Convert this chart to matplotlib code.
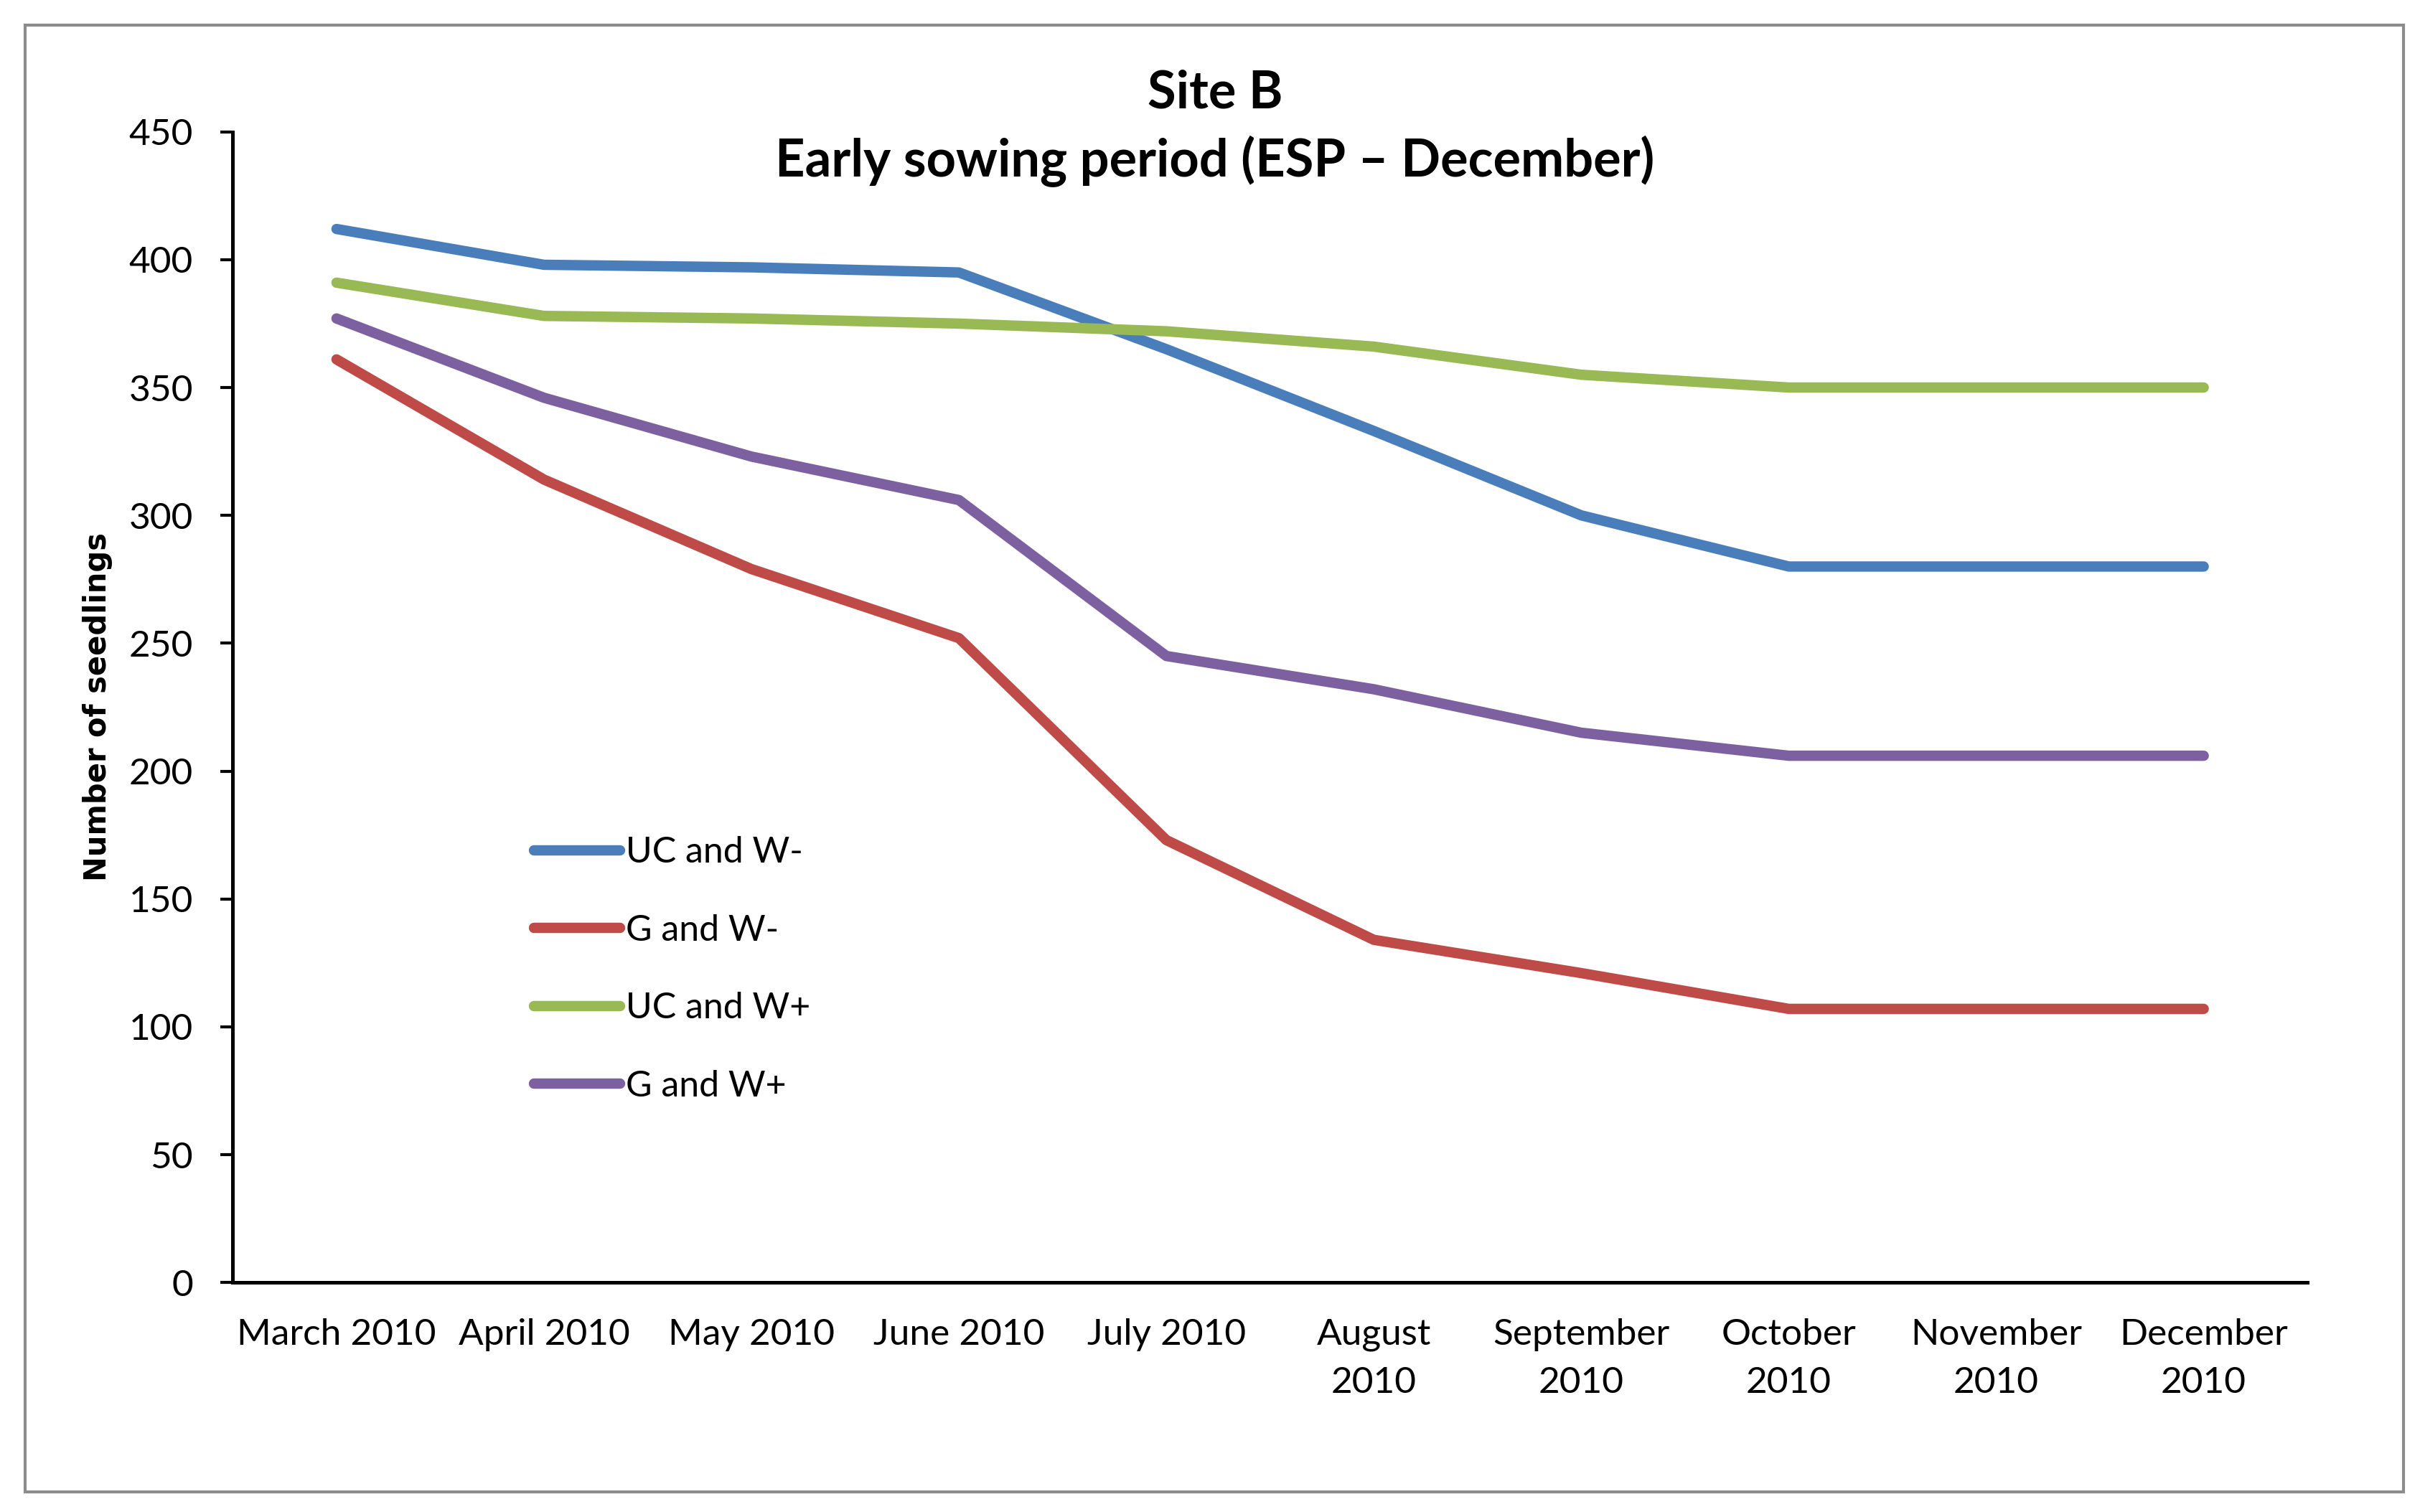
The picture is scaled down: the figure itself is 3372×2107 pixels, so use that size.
import matplotlib
matplotlib.use("Agg")
import matplotlib.pyplot as plt
from matplotlib.patches import Rectangle

months = ["March 2010", "April 2010", "May 2010", "June 2010", "July 2010",
          "August\n2010", "September\n2010", "October\n2010", "November\n2010", "December\n2010"]
uc_wminus = [412, 398, 397, 395, 365, 333, 300, 280, 280, 280]
g_wminus = [361, 314, 279, 252, 173, 134, 121, 107, 107, 107]
uc_wplus = [391, 378, 377, 375, 372, 366, 355, 350, 350, 350]
g_wplus = [377, 346, 323, 306, 245, 232, 215, 206, 206, 206]

series = [
    ("UC and W-", uc_wminus, "#4A7EBB"),
    ("G and W-", g_wminus, "#BE4B48"),
    ("UC and W+", uc_wplus, "#98B954"),
    ("G and W+", g_wplus, "#7D60A0"),
]

plt.rcParams['font.family'] = ['Lato', 'DejaVu Sans']

W, H = 1560, 975
fig = plt.figure(figsize=(3373/200, 2107/200), dpi=200)
ax = fig.add_axes([150/W, 1-827/H, (1487-150)/W, (827-85)/H])

x = list(range(len(months)))
for name, vals, col in series:
    ax.plot(x, vals, color=col, lw=5.2, label=name, solid_capstyle='round', solid_joinstyle='round')

ax.set_xlim(-0.5, len(months)-0.5)
ax.set_ylim(0, 450)
ax.set_yticks(range(0, 451, 50))
ax.set_xticks(x)
ax.set_xticklabels(months, fontsize=18.5, va='top', linespacing=1.55)
ax.tick_params(axis='x', length=0, pad=18)
ax.tick_params(axis='y', labelsize=18.5, length=6, width=1.5, direction='out', pad=14)
for s in ['top', 'right']:
    ax.spines[s].set_visible(False)
for s in ['left', 'bottom']:
    ax.spines[s].set_linewidth(1.8)
    ax.spines[s].set_color('black')

ax.set_ylabel("Number of seedlings", fontsize=15, fontweight='bold', labelpad=8,
              family=['DejaVu Sans'])

fig.text(783/W, 1-60/H, "Site B", ha='center', va='center', fontsize=26, fontweight='bold')
fig.text(783/W, 1-104/H, "Early sowing period (ESP – December)", ha='center', va='center',
         fontsize=26, fontweight='bold')

leg = ax.legend(loc='upper left', bbox_to_anchor=((335-150)/(1487-150), 1-(530-85)/(827-85)),
                frameon=False, fontsize=18, handlelength=2.4, handletextpad=0.15,
                labelspacing=1.25, borderaxespad=0)

fig.patches.append(Rectangle((16/W, 1-962/H), (1549-16)/W, (962-16)/H, transform=fig.transFigure,
                             fill=False, edgecolor='#8c8c8c', lw=1.5))

fig.savefig("out.png", dpi=200, facecolor='white')
